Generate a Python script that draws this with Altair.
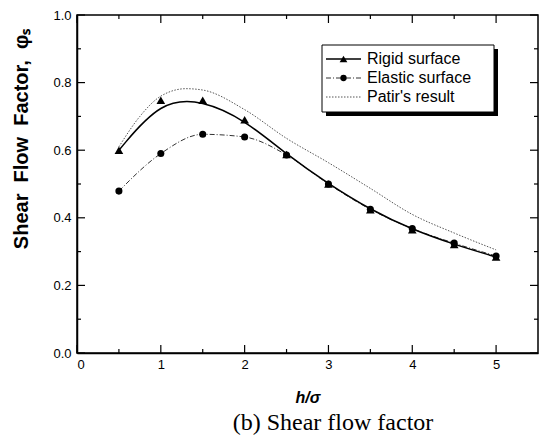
import altair as alt
import pandas as pd

# ---- data ----
h_vals = [0.5, 1.0, 1.5, 2.0, 2.5, 3.0, 3.5, 4.0, 4.5, 5.0]
rigid = [0.60, 0.748, 0.748, 0.69, 0.587, 0.50, 0.424, 0.365, 0.321, 0.284]
elastic = [0.479, 0.59, 0.647, 0.639, 0.586, 0.50, 0.425, 0.368, 0.325, 0.287]
patir_h = [0.5, 0.75, 1.0, 1.3, 1.5, 2.0, 2.5, 3.0, 3.5, 4.0, 4.5, 5.0]
patir = [0.61, 0.70, 0.76, 0.782, 0.778, 0.72, 0.635, 0.563, 0.487, 0.41, 0.355, 0.305]

x_major = [0, 1, 2, 3, 4, 5]
x_minor = [0.5, 1.5, 2.5, 3.5, 4.5]
y_major = [0.0, 0.2, 0.4, 0.6, 0.8, 1.0]
y_minor = [0.1, 0.3, 0.5, 0.7, 0.9]

legend_labels = ["Rigid surface", "Elastic surface", "Patir's result"]

W, H = 461, 338
XS = alt.Scale(domain=[0, 5.5], nice=False, zero=False)
YS = alt.Scale(domain=[0, 1.0], nice=False, zero=False)
FONT = "Liberation Sans"


def X(**kw):
    return alt.X("x:Q", scale=XS, title=None, **kw)


def Y(**kw):
    return alt.Y("y:Q", scale=YS, title=None, **kw)


one = pd.DataFrame({"k": [0]})

df_r = pd.DataFrame({"x": h_vals, "y": rigid})
df_e = pd.DataFrame({"x": h_vals, "y": elastic})
df_p = pd.DataFrame({"x": patir_h, "y": patir})

base_axes = alt.Chart(df_r).mark_point(opacity=0).encode(
    x=X(axis=alt.Axis(values=x_major, ticks=False, grid=False, labelFont=FONT,
                      labelFontSize=13, labelColor="black", domainColor="black",
                      domainWidth=1.5, labelPadding=5, format="d")),
    y=Y(axis=alt.Axis(values=y_major, ticks=False, grid=False, labelFont=FONT,
                      labelFontSize=13, labelColor="black", domainColor="black",
                      domainWidth=1.5, labelPadding=6, format=".1f")),
)

patir_line = alt.Chart(df_p).mark_line(
    color="#555", strokeWidth=1, strokeDash=[1.5, 1.5], interpolate="monotone"
).encode(x=X(), y=Y())
elastic_line = alt.Chart(df_e).mark_line(
    color="#333", strokeWidth=1, strokeDash=[5, 2, 1, 2], interpolate="monotone"
).encode(x=X(), y=Y())
rigid_line = alt.Chart(df_r).mark_line(
    color="black", strokeWidth=1.5, interpolate="basis"
).encode(x=X(), y=Y())
rigid_pts = alt.Chart(df_r).mark_point(
    shape="triangle-up", filled=True, color="black", size=75, opacity=1
).encode(x=X(), y=Y())
elastic_pts = alt.Chart(df_e).mark_point(
    shape="circle", filled=True, color="black", size=50, opacity=1
).encode(x=X(), y=Y())


def xticks(vals, length):
    d = pd.DataFrame({"x": vals})
    b = alt.Chart(d).mark_rule(color="black", strokeWidth=1.2).encode(
        x=X(), y=alt.value(H), y2=alt.value(H - length))
    t = alt.Chart(d).mark_rule(color="black", strokeWidth=1.2).encode(
        x=X(), y=alt.value(0), y2=alt.value(length))
    return [b, t]


def yticks(vals, length):
    d = pd.DataFrame({"y": vals})
    l = alt.Chart(d).mark_rule(color="black", strokeWidth=1.2).encode(
        y=Y(), x=alt.value(0), x2=alt.value(length))
    r = alt.Chart(d).mark_rule(color="black", strokeWidth=1.2).encode(
        y=Y(), x=alt.value(W), x2=alt.value(W - length))
    return [l, r]


ticks = xticks(x_major, 8) + xticks(x_minor, 4) + yticks(y_major, 8) + yticks(y_minor, 4)

# ---- legend ----
LX0, LX1, LY0, LY1 = 245, 417, 30, 97
shadow = alt.Chart(one).mark_rect(color="black").encode(
    x=alt.value(LX0 + 4), x2=alt.value(LX1 + 4), y=alt.value(LY0 + 4), y2=alt.value(LY1 + 4))
box = alt.Chart(one).mark_rect(fill="white", stroke="black", strokeWidth=1).encode(
    x=alt.value(LX0), x2=alt.value(LX1), y=alt.value(LY0), y2=alt.value(LY1))
rows = [44, 63, 82]
leg = []
leg.append(alt.Chart(one).mark_rule(color="black", strokeWidth=1.5).encode(
    x=alt.value(249), x2=alt.value(284), y=alt.value(rows[0])))
leg.append(alt.Chart(one).mark_point(shape="triangle-up", filled=True, color="black",
                                     size=60, opacity=1).encode(
    x=alt.value(266.5), y=alt.value(rows[0])))
leg.append(alt.Chart(one).mark_rule(color="#333", strokeWidth=1, strokeDash=[5, 2, 1, 2]).encode(
    x=alt.value(249), x2=alt.value(284), y=alt.value(rows[1])))
leg.append(alt.Chart(one).mark_point(shape="circle", filled=True, color="black",
                                     size=40, opacity=1).encode(
    x=alt.value(266.5), y=alt.value(rows[1])))
leg.append(alt.Chart(one).mark_rule(color="#555", strokeWidth=1, strokeDash=[1.5, 1.5]).encode(
    x=alt.value(249), x2=alt.value(284), y=alt.value(rows[2])))
for lab, ry in zip(legend_labels, rows):
    leg.append(alt.Chart(one).mark_text(text=lab, font=FONT, fontSize=16, color="black",
                                        align="left", baseline="middle").encode(
        x=alt.value(290), y=alt.value(ry)))

# ---- titles ----
ytitle = alt.Chart(one).mark_text(
    text="Shear\u00a0 Flow\u00a0 Factor,\u00a0 \u03c6\u209b", font=FONT, fontSize=20,
    fontWeight="bold", angle=270, color="black", align="center", baseline="middle"
).encode(x=alt.value(-55), y=alt.value(124))
xtitle = alt.Chart(one).mark_text(
    text="h/\u03c3", font=FONT, fontSize=16, fontWeight="bold", fontStyle="italic",
    color="black", align="center", baseline="middle"
).encode(x=alt.value(231), y=alt.value(383))
caption = alt.Chart(one).mark_text(
    text="(b) Shear flow factor", font="Liberation Serif", fontSize=24,
    color="black", align="center", baseline="middle"
).encode(x=alt.value(256), y=alt.value(408))

chart = alt.layer(
    base_axes, *ticks, patir_line, elastic_line, rigid_line, rigid_pts, elastic_pts,
    shadow, box, *leg, ytitle, xtitle, caption
).properties(
    width=W, height=H,
    autosize=alt.AutoSizeParams(type="none"),
    padding={"left": 77, "top": 15, "right": 4, "bottom": 91},
).configure(
    background="white",
    view=alt.ViewConfig(stroke="black", strokeWidth=1.5),
)

chart.save("out.html", embed_options={"renderer": "svg", "actions": False})
